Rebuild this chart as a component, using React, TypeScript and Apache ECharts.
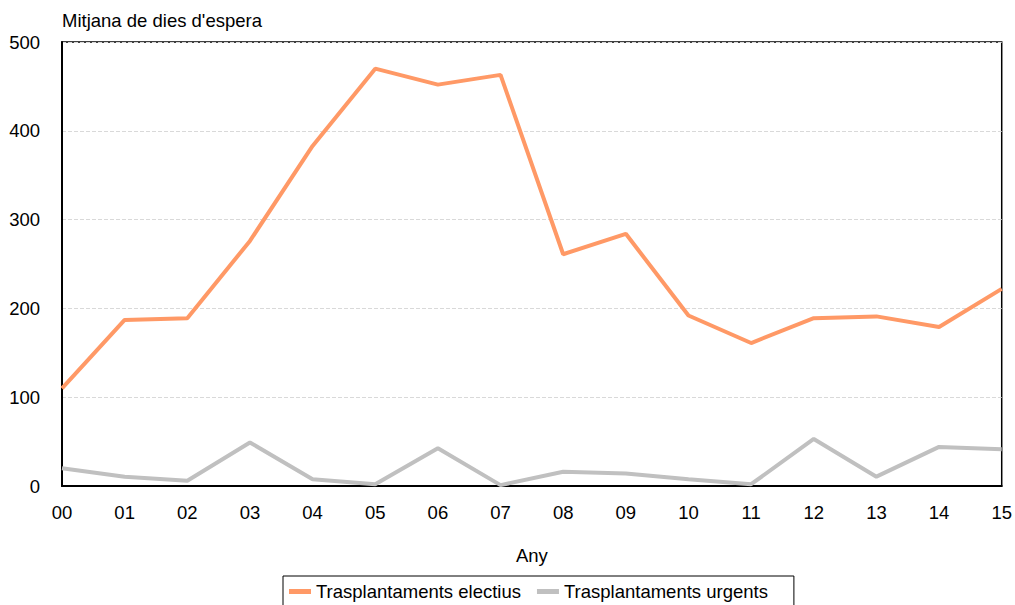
import React, { useEffect, useRef } from "react";
import * as echarts from "echarts";

const years = ["00", "01", "02", "03", "04", "05", "06", "07", "08", "09", "10", "11", "12", "13", "14", "15"];
const electius = [110, 187, 189, 276, 383, 470, 452, 463, 261, 284, 192, 161, 189, 191, 179, 222];
const urgents = [20, 10.5, 6, 49, 7.5, 2, 42.5, 1, 16, 14, 7.5, 2, 53, 10.5, 44, 41.5];
const seriesNames = ["Trasplantaments electius", "Trasplantaments urgents"];

const FONT = "'Liberation Sans', Arial, sans-serif";

export default function App() {
  const ref = useRef<HTMLDivElement>(null);

  useEffect(() => {
    if (!ref.current) return;
    const chart = echarts.init(ref.current, null, { renderer: "svg" });
    chart.setOption({
      animation: false,
      textStyle: { fontFamily: FONT },
      grid: {
        left: 62,
        right: 11,
        top: 42,
        bottom: 119,
        show: true,
        borderColor: "#000",
        borderWidth: 1.5,
      },
      graphic: [
        {
          type: "text",
          left: 62,
          top: 11,
          style: { text: "Mitjana de dies d'espera", font: `18.5px ${FONT}`, fill: "#000" },
        },
      ],
      legend: {
        left: 283,
        top: 576,
        padding: [6, 26, 10, 6],
        itemGap: 16,
        itemWidth: 22,
        itemHeight: 5,
        icon: "rect",
        borderColor: "#000",
        borderWidth: 1,
        textStyle: { fontSize: 18.5, fontFamily: FONT, color: "#000" },
        data: seriesNames,
      },
      xAxis: {
        type: "category",
        data: years,
        boundaryGap: false,
        name: "Any",
        nameLocation: "middle",
        nameGap: 60,
        nameTextStyle: { fontSize: 18.5, fontFamily: FONT, color: "#000" },
        axisLine: { lineStyle: { color: "#000", width: 2 } },
        axisTick: { show: false },
        axisLabel: { fontSize: 18.5, fontFamily: FONT, color: "#000", margin: 17 },
        splitLine: { show: false },
      },
      yAxis: {
        type: "value",
        min: 0,
        max: 500,
        interval: 100,
        axisLine: { show: true, lineStyle: { color: "#000", width: 2 } },
        axisTick: { show: false },
        axisLabel: { fontSize: 18.5, fontFamily: FONT, color: "#000", margin: 22 },
        splitLine: { lineStyle: { color: "#d9d9d9", type: "dashed", width: 1 } },
      },
      series: [
        {
          name: seriesNames[0],
          type: "line",
          data: electius,
          symbol: "none",
          lineStyle: { color: "#ff9966", width: 4 },
          itemStyle: { color: "#ff9966" },
        },
        {
          name: seriesNames[1],
          type: "line",
          data: urgents,
          symbol: "none",
          lineStyle: { color: "#c0c0c0", width: 4 },
          itemStyle: { color: "#c0c0c0" },
        },
      ],
    });
    return () => chart.dispose();
  }, []);

  return <div ref={ref} style={{ width: 1015, height: 605, position: "absolute", left: 0, top: 0 }} />;
}
